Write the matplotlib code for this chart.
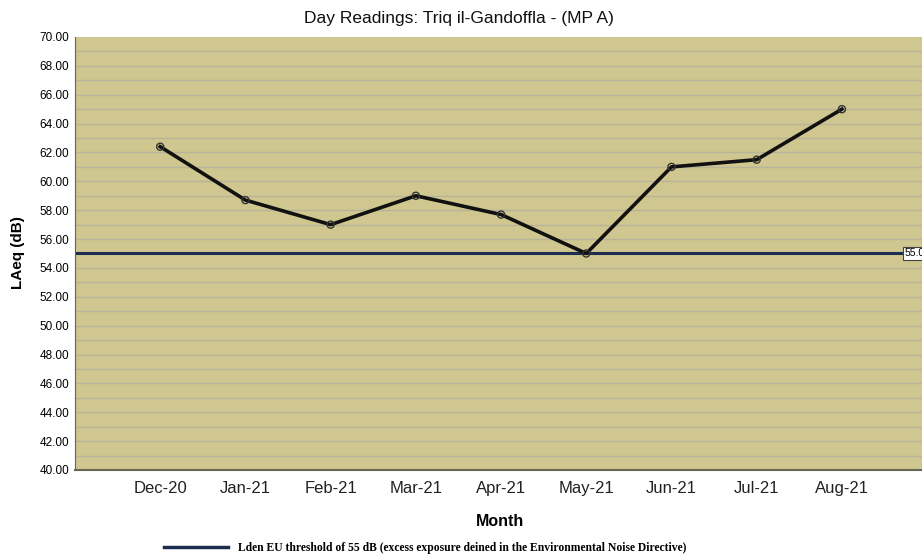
import numpy as np
import matplotlib
matplotlib.use('Agg')
import matplotlib.pyplot as plt
from matplotlib.ticker import MultipleLocator, FormatStrFormatter
from matplotlib.lines import Line2D

plt.rcParams['font.family'] = ['Liberation Sans', 'DejaVu Sans']

months = ['Dec-20', 'Jan-21', 'Feb-21', 'Mar-21', 'Apr-21', 'May-21', 'Jun-21', 'Jul-21', 'Aug-21']
laeq = [62.4, 58.7, 57.0, 59.0, 57.7, 55.0, 61.0, 61.5, 65.0]
threshold = 55.0

fig = plt.figure(figsize=(9.22, 5.57), dpi=100)
ax = fig.add_axes([75 / 922, 1 - 470 / 557, 1 - 75 / 922, (470 - 37) / 557])
ax.set_facecolor('#cfc78f')

x = np.arange(len(months))
# horizontal grid every 1 dB
for v in np.arange(41, 70, 1):
    ax.axhline(v, color='#b8b49c', linewidth=1.0, zorder=1)

ax.axhline(threshold, color='#1c2d50', linewidth=2.2, zorder=2)
ax.plot(x, laeq, color='#111111', linewidth=2.6, zorder=3)
ax.scatter(x, laeq, s=26, facecolors='none', edgecolors='#333333', linewidths=1.0, zorder=4)
ax.text(8.73, threshold, '55.0', fontsize=7.5, va='center', ha='left', clip_on=True,
        bbox=dict(boxstyle='square,pad=0.15', facecolor='white', edgecolor='#444444', linewidth=0.8))

ax.set_xlim(-1, 8.94)
ax.set_ylim(40, 70)
ax.set_xticks(x)
ax.set_xticklabels(months, fontsize=12, color='#222222')
ax.yaxis.set_major_locator(MultipleLocator(2))
ax.yaxis.set_major_formatter(FormatStrFormatter('%.2f'))
ax.tick_params(axis='y', labelsize=8.5, length=0, pad=4)
ax.tick_params(axis='x', length=0, pad=8)
for s in ['top', 'right']:
    ax.spines[s].set_visible(False)
ax.spines['left'].set_color('#666655')
ax.spines['bottom'].set_color('#666655')
ax.spines['bottom'].set_linewidth(1.5)

fig.text(459 / 922, 1 - 18 / 557, 'Day Readings: Triq il-Gandoffla - (MP A)', ha='center', va='center',
         fontsize=12.5, color='#111111')
fig.text(18 / 922, 1 - 253 / 557, 'LAeq (dB)', rotation=90, ha='center', va='center', fontsize=11, fontweight='bold')
fig.text(500 / 922, 1 - 521 / 557, 'Month', ha='center', va='center', fontsize=11.5, fontweight='bold')

handle = Line2D([0], [0], color='#1c2d50', linewidth=2.5)
fig.legend([handle], ['Lden EU threshold of 55 dB (excess exposure deined in the Environmental Noise Directive)'],
           loc='center', bbox_to_anchor=(425 / 922, 1 - 548 / 557), frameon=False, handlelength=5.5,
           prop={'family': 'Liberation Serif', 'weight': 'bold', 'size': 8.4})

fig.savefig('out.png', dpi=100)
